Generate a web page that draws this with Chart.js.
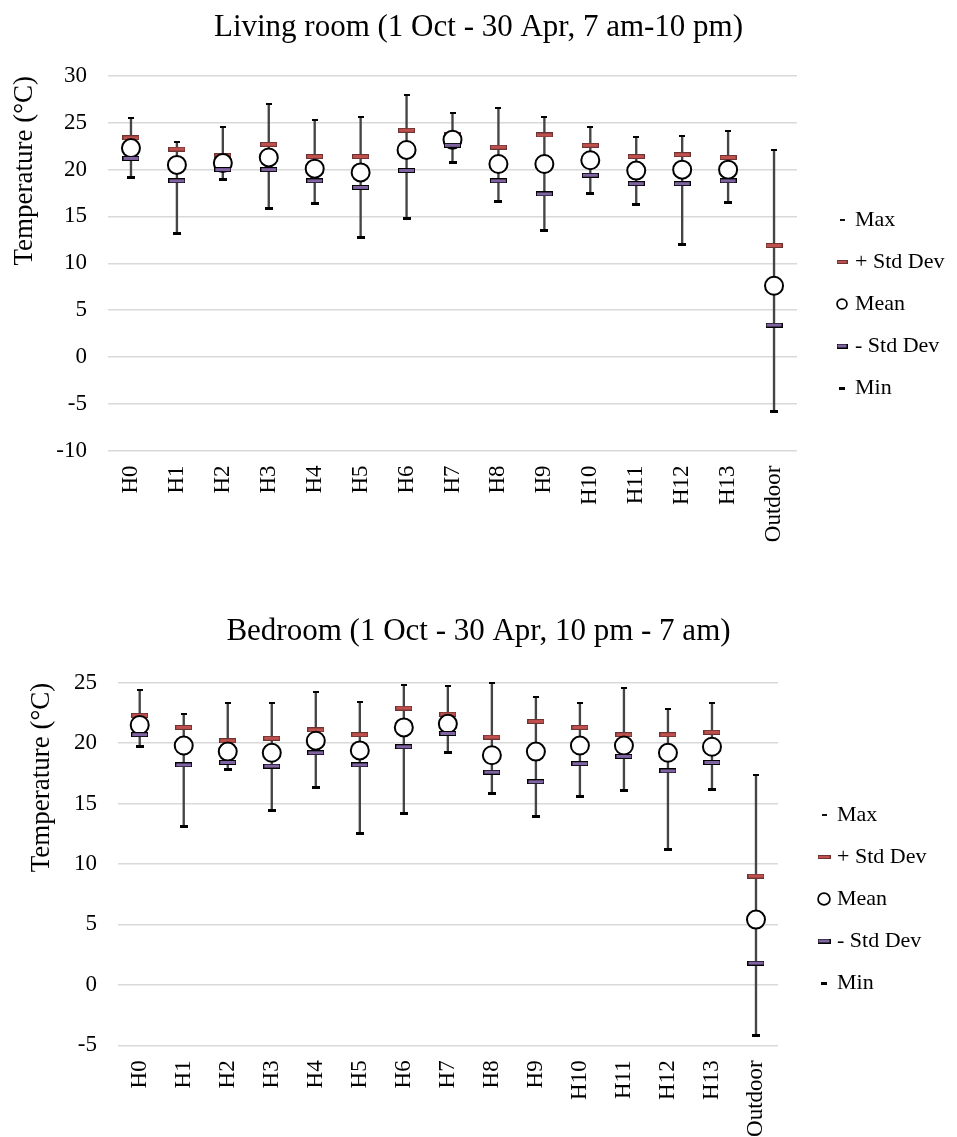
<!DOCTYPE html>
<html>
<head>
<meta charset="utf-8">
<script src="https://cdn.jsdelivr.net/npm/chart.js@4.4.1/dist/chart.umd.min.js"></script>
<style>
  html, body { margin: 0; padding: 0; background: #fff; width: 957px; height: 1137px; overflow: hidden; }
  .panel { position: absolute; left: 0; width: 957px; }
  canvas { display: block; }
</style>
</head>
<body>
<div class="panel" style="top:0"><canvas id="living" width="957" height="608"></canvas></div>
<div class="panel" style="top:590px"><canvas id="bedroom" width="957" height="618"></canvas></div>
<script>
// Households H0–H13 plus the outdoor reference
const categories = ['H0', 'H1', 'H2', 'H3', 'H4', 'H5', 'H6', 'H7', 'H8', 'H9', 'H10', 'H11', 'H12', 'H13', 'Outdoor'];
const seriesNames = ['Max', '+ Std Dev', 'Mean', '- Std Dev', 'Min'];

// Living room, 1 Oct – 30 Apr, 7 am – 10 pm (°C)
const livingMax   = [25.5, 22.9, 24.6, 27.0, 25.3, 25.6, 28.0, 26.0, 26.6, 25.6, 24.5, 23.5, 23.6, 24.1, 22.1];
const livingPlus  = [23.4, 22.2, 21.5, 22.7, 21.4, 21.4, 24.2, 23.8, 22.4, 23.7, 22.6, 21.4, 21.6, 21.3, 11.9];
const livingMean  = [22.3, 20.5, 20.7, 21.3, 20.1, 19.7, 22.1, 23.2, 20.6, 20.6, 21.0, 19.9, 20.0, 20.0, 7.6];
const livingMinus = [21.2, 18.8, 20.0, 20.0, 18.8, 18.1, 19.9, 22.6, 18.8, 17.4, 19.4, 18.5, 18.5, 18.8, 3.4];
const livingMin   = [19.2, 13.2, 18.9, 15.8, 16.4, 12.7, 14.8, 20.8, 16.6, 13.5, 17.4, 16.3, 12.0, 16.5, -5.8];

// Bedroom, 1 Oct – 30 Apr, 10 pm – 7 am (°C)
const bedMax   = [24.4, 22.4, 23.3, 23.3, 24.2, 23.4, 24.8, 24.7, 25.0, 23.8, 23.3, 24.6, 22.8, 23.3, 17.4];
const bedPlus  = [22.3, 21.3, 20.2, 20.4, 21.1, 20.7, 22.9, 22.4, 20.5, 21.8, 21.3, 20.7, 20.7, 20.9, 9.0];
const bedMean  = [21.5, 19.8, 19.3, 19.2, 20.2, 19.4, 21.3, 21.6, 19.0, 19.3, 19.8, 19.8, 19.2, 19.7, 5.4];
const bedMinus = [20.7, 18.2, 18.4, 18.1, 19.2, 18.2, 19.7, 20.8, 17.6, 16.8, 18.3, 18.9, 17.7, 18.4, 1.8];
const bedMin   = [19.7, 13.1, 17.8, 14.4, 16.3, 12.5, 14.2, 19.2, 15.8, 13.9, 15.6, 16.1, 11.2, 16.2, -4.2];

const FONT = '"Liberation Serif", "Times New Roman", serif';
const TICK_SIZE = 23, LEGEND_SIZE = 22, TITLE_SIZE = 31, AXIS_TITLE_SIZE = 27;
const LEGEND_PAD = 20, LEGEND_BOX = 4;
const PAGE_W = 957;

Chart.defaults.font.family = FONT;
Chart.defaults.color = '#000';

// Small bitmap markers used as point styles
function rectMark(w, h, fill, stroke) {
  const c = document.createElement('canvas');
  c.width = w; c.height = h;
  const g = c.getContext('2d');
  g.fillStyle = stroke; g.fillRect(0, 0, w, h);
  g.fillStyle = fill; g.fillRect(1, 1, w - 2, h - 2);
  return c;
}
function ringMark(d, lw) {
  const c = document.createElement('canvas');
  c.width = d; c.height = d;
  const g = c.getContext('2d');
  g.fillStyle = '#fff';
  g.strokeStyle = '#000';
  g.lineWidth = lw;
  g.beginPath();
  g.arc(d / 2, d / 2, d / 2 - lw / 2 - 0.2, 0, Math.PI * 2);
  g.fill(); g.stroke();
  return c;
}

const marks = {
  max:   rectMark(6, 2, '#000', '#000'),
  plus:  rectMark(17, 5, '#C0504D', '#6b3432'),
  minus: rectMark(17, 5, '#8064A2', '#000'),
  min:   rectMark(8, 3, '#000', '#000')
};

function legendMarks(scale) {
  return [
    rectMark(5, 2, '#111', '#111'),
    rectMark(Math.round(11 * scale), 4, '#C0504D', '#6b3432'),
    ringMark(Math.round(12 * scale), 1.7),
    rectMark(Math.round(11 * scale), 5, '#8064A2', '#000'),
    rectMark(6, 3, '#000', '#000')
  ];
}

// Width the legend box will take: padding + box + half font + widest label + 10
function legendWidth() {
  const g = document.createElement('canvas').getContext('2d');
  g.font = LEGEND_SIZE + 'px ' + FONT;
  const w = Math.max(...seriesNames.map(n => g.measureText(n).width));
  return LEGEND_PAD + LEGEND_BOX + LEGEND_SIZE / 2 + w + 10;
}

function buildChart(canvasId, cfg) {
  const pointSet = (label, data, style, order) => ({
    type: 'line', label, data, order, showLine: false, clip: false,
    pointStyle: style, pointRadius: 4, pointHoverRadius: 4
  });
  const lm = legendMarks(cfg.legendScale);
  const legW = legendWidth();
  // equal side padding keeps the title centred on the page
  const side = Math.max(0, PAGE_W - cfg.areaRight - cfg.legendGap - legW);

  return new Chart(document.getElementById(canvasId), {
    type: 'bar',
    data: {
      labels: categories,
      datasets: [
        {
          type: 'bar', label: 'range', order: 10, clip: false,
          data: cfg.max.map((v, i) => [cfg.min[i], v]),
          backgroundColor: '#454545', borderWidth: 0, barThickness: 1.7, grouped: false
        },
        pointSet(seriesNames[0], cfg.max, marks.max, 5),
        pointSet(seriesNames[1], cfg.plus, marks.plus, 4),
        {
          type: 'line', label: seriesNames[2], data: cfg.mean, order: 3, showLine: false, clip: false,
          pointStyle: 'circle', pointRadius: 9, pointHoverRadius: 9, pointBorderWidth: 2,
          pointBorderColor: '#000', pointBackgroundColor: '#fff'
        },
        pointSet(seriesNames[3], cfg.minus, marks.minus, 2),
        pointSet(seriesNames[4], cfg.min, marks.min, 1)
      ]
    },
    options: {
      responsive: false,
      animation: false,
      events: [],
      layout: { padding: { left: side, right: side, top: 0, bottom: 0 } },
      plugins: {
        tooltip: { enabled: false },
        title: {
          display: true, text: cfg.title, color: '#000',
          font: { family: FONT, size: TITLE_SIZE, weight: 'normal' },
          padding: { top: cfg.titleTop, bottom: cfg.titleBottom }
        },
        legend: {
          position: 'right', align: 'center',
          labels: {
            usePointStyle: true, boxWidth: LEGEND_BOX, boxHeight: 8, padding: LEGEND_PAD,
            color: '#000', font: { family: FONT, size: LEGEND_SIZE },
            generateLabels: () => seriesNames.map((name, i) => ({
              text: name, pointStyle: lm[i], datasetIndex: i + 1, hidden: false,
              fontColor: '#000', fillStyle: 'transparent', strokeStyle: 'transparent', lineWidth: 0
            }))
          }
        }
      },
      scales: {
        x: {
          offset: true,
          grid: { display: false, drawTicks: false },
          border: { display: false },
          ticks: { autoSkip: false, minRotation: 90, maxRotation: 90, padding: 15, color: '#000',
                   font: { family: FONT, size: TICK_SIZE } },
          afterFit: s => { s.height = cfg.height - cfg.areaBottom; }
        },
        y: {
          min: cfg.yMin, max: cfg.yMax,
          grid: { color: '#d9d9d9', lineWidth: 1.5, drawTicks: false },
          border: { display: false },
          ticks: { stepSize: 5, padding: cfg.tickPad, color: '#000', font: { family: FONT, size: TICK_SIZE } },
          title: { display: true, text: 'Temperature (°C)', align: 'end', color: '#000',
                   font: { family: FONT, size: AXIS_TITLE_SIZE },
                   padding: { top: Math.max(0, cfg.axisTitleX - AXIS_TITLE_SIZE * 0.6 - side), bottom: 0 } },
          afterFit: s => { s.width = cfg.areaLeft - side; }
        },
        // empty right-hand axis that spaces the legend away from the plot
        legendGap: {
          position: 'right', display: true,
          grid: { display: false, drawTicks: false }, border: { display: false },
          ticks: { display: false },
          afterFit: s => { s.width = cfg.legendGap; }
        }
      }
    }
  });
}

buildChart('living', {
  title: 'Living room (1 Oct - 30 Apr, 7 am-10 pm)',
  max: livingMax, plus: livingPlus, mean: livingMean, minus: livingMinus, min: livingMin,
  yMin: -10, yMax: 30, height: 608,
  areaLeft: 108, areaRight: 797, areaBottom: 450.5,
  titleTop: 9.4, titleBottom: 29.4,
  tickPad: 21, axisTitleX: 25, legendGap: 23, legendScale: 1
});

buildChart('bedroom', {
  title: 'Bedroom (1 Oct - 30 Apr, 10 pm - 7 am)',
  max: bedMax, plus: bedPlus, mean: bedMean, minus: bedMinus, min: bedMin,
  yMin: -5, yMax: 25, height: 618,
  areaLeft: 117.7, areaRight: 778, areaBottom: 455.3,
  titleTop: 23.4, titleBottom: 32.1,
  tickPad: 20.7, axisTitleX: 42, legendGap: 24, legendScale: 1.2
});
</script>
</body>
</html>
